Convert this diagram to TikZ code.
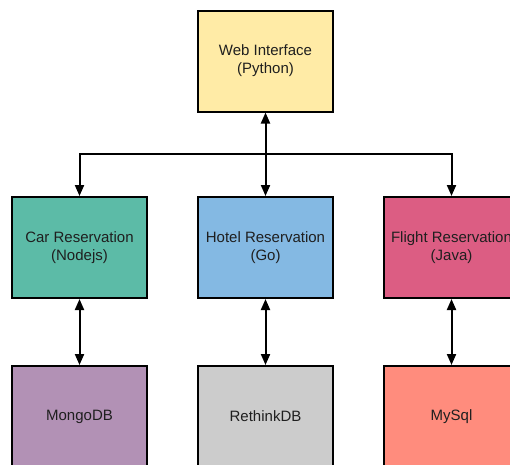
\documentclass[tikz,border=0pt]{standalone}
\usepackage{fontspec}
\setmainfont{Liberation Sans}
\usetikzlibrary{arrows.meta}
\definecolor{cweb}{HTML}{FFEBA6}
\definecolor{ccar}{HTML}{5CBBA7}
\definecolor{chotel}{HTML}{84B9E3}
\definecolor{cflight}{HTML}{DC5D83}
\definecolor{cmongo}{HTML}{B291B5}
\definecolor{crethink}{HTML}{CCCCCC}
\definecolor{cmysql}{HTML}{FF8C7D}
\tikzset{
  svc/.style={draw=black, line width=2pt, minimum width=135pt, minimum height=101pt,
    inner sep=0pt, align=center, font=\fontsize{15}{18}\selectfont, text=black!88},
  conn/.style={line width=2pt, {Triangle[length=11pt,width=9pt]}-{Triangle[length=11pt,width=9pt]}},
  conn1/.style={line width=2pt, -{Triangle[length=11pt,width=9pt]}}
}
\begin{document}
\begin{tikzpicture}[x=1pt,y=-1pt]
\useasboundingbox (0,0) rectangle (510,464);
\clip (0,0) rectangle (510,464);
\node[svc, fill=cweb] (web) at (265.5,61) {Web Interface\\(Python)};
\node[svc, fill=ccar] (car) at (79.5,247.5) {Car Reservation\\(Nodejs)};
\node[svc, fill=chotel] (hotel) at (265.5,247.5) {Hotel Reservation\\(Go)};
\node[svc, fill=cflight] (flight) at (451.5,247.5) {Flight Reservation\\(Java)};
\node[svc, fill=cmongo] (mongo) at (79.5,416.5) {MongoDB};
\node[svc, fill=crethink] (rethink) at (265.5,416.5) {RethinkDB};
\node[svc, fill=cmysql] (mysql) at (451.5,416.5) {MySql};
\coordinate (j) at (265.5,154);
\draw[conn] (web) -- (hotel);
\draw[conn1, line join=miter] (j) -| (car);
\draw[conn1, line join=miter] (j) -| (flight);
\draw[conn] (car) -- (mongo);
\draw[conn] (hotel) -- (rethink);
\draw[conn] (flight) -- (mysql);
\end{tikzpicture}
\end{document}
